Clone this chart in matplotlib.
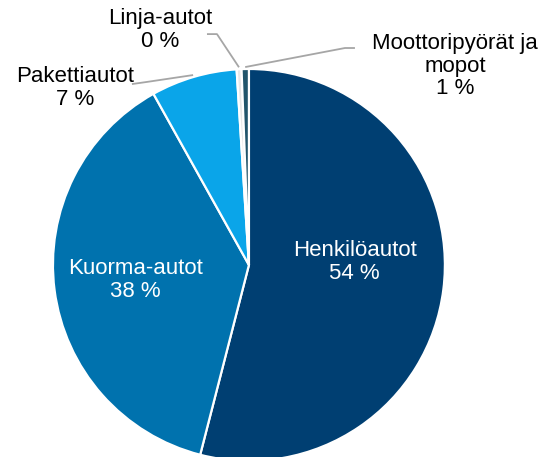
import numpy as np
import matplotlib.pyplot as plt

plt.rcParams['font.family'] = ['Liberation Sans', 'DejaVu Sans']

categories = ['Henkilöautot', 'Kuorma-autot', 'Pakettiautot', 'Linja-autot',
              'Moottoripyörät ja\nmopot']
shares = [54.0, 37.9, 7.1, 0.4, 0.6]
colors = ['#003f72', '#0072ae', '#0aa5e9', '#e8e8e8', '#22556b']

fig = plt.figure(figsize=(5.39, 4.57), dpi=100)
ax = fig.add_axes([0, 0, 1, 1])

wedges, _ = ax.pie(shares, colors=colors, startangle=90, counterclock=False,
                   radius=1.0, wedgeprops=dict(edgecolor='white', linewidth=1.6))
for w in wedges:
    w.set_clip_on(True)

# pie() resets the limits, so fix the view afterwards
ax.set_xlim(-1.270, 1.480)
ax.set_ylim(-0.980, 1.352)
ax.set_aspect('equal')
ax.axis('off')

labels = [f'{c}\n{v:.0f} %' for c, v in zip(categories, shares)]
fs = 16

# white labels inside the two big slices
ax.text(0.54, 0.015, labels[0], color='white', fontsize=fs, ha='center',
        va='center', linespacing=1.12)
ax.text(-0.58, -0.077, labels[1], color='white', fontsize=fs, ha='center',
        va='center', linespacing=1.12)

# outside labels with leader lines: text pos, elbow points
outside = {
    2: ((-0.888, 0.903), [(-0.597, 0.923), (-0.52, 0.934)]),
    3: ((-0.454, 1.199), [(-0.214, 1.178), (-0.163, 1.178)]),
    4: ((1.051, 1.015), [(0.541, 1.107), (0.490, 1.107)]),
}
for i, (tpos, elbow) in outside.items():
    ax.text(tpos[0], tpos[1], labels[i], color='black', fontsize=fs,
            ha='center', va='center', linespacing=1.12)
    w = wedges[i]
    mid = np.deg2rad((w.theta1 + w.theta2) / 2)
    anchor = (1.01 * np.cos(mid), 1.01 * np.sin(mid))
    pts = elbow + [anchor]
    xs, ys = zip(*pts)
    ax.plot(xs, ys, color='#a6a6a6', linewidth=1.3, solid_capstyle='butt')

fig.savefig('out.png', dpi=100)
